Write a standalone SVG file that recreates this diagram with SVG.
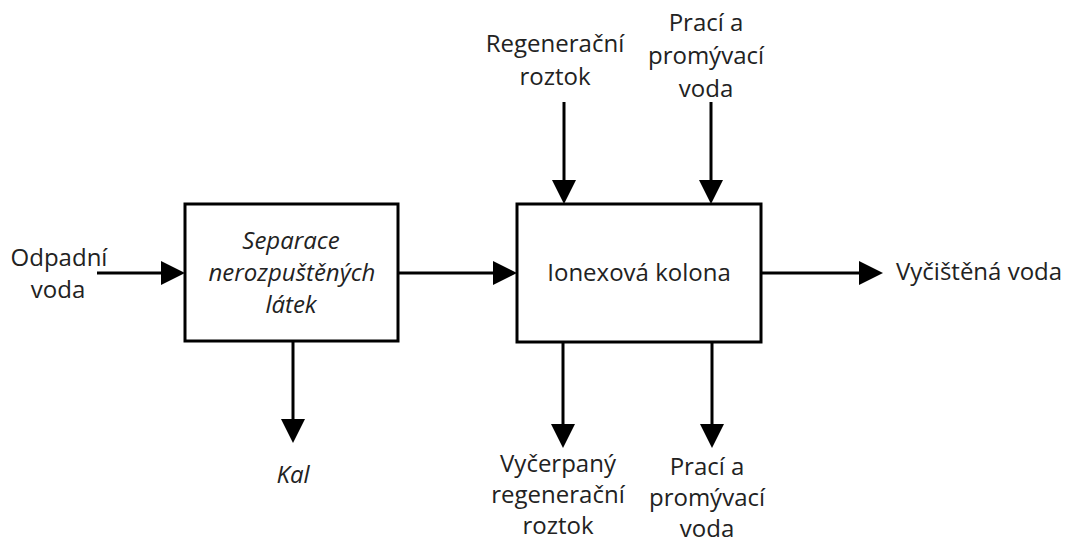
<svg xmlns="http://www.w3.org/2000/svg" width="1068" height="538" viewBox="0 0 1068 538">
<defs>
<style>
text{font-family:"Open Sans","Liberation Sans",sans-serif;font-size:24px;fill:#222;text-anchor:middle}
.it{font-style:italic}
.box{fill:#fff;stroke:#000;stroke-width:3}
.conn path{fill:none;stroke:#000;stroke-width:3;marker-end:url(#ah)}
</style>
<marker id="ah" markerUnits="userSpaceOnUse" markerWidth="24" markerHeight="24" refX="4" refY="12" orient="auto" viewBox="0 0 24 24">
<path d="M0,0 L24,12 L0,24 z" fill="#000"/>
</marker>
</defs>
<rect width="1068" height="538" fill="#fff"/>
<g id="separace">
<rect class="box" x="185" y="204" width="213" height="137"/>
<text class="it" x="291" y="249">Separace</text>
<text class="it" x="292" y="281">nerozpuštěných</text>
<text class="it" x="291" y="313">látek</text>
</g>
<g id="ionex">
<rect class="box" x="517" y="204" width="244" height="138"/>
<text x="639" y="281">Ionexová kolona</text>
</g>
<g id="odpadni">
<text x="59" y="266">Odpadní</text>
<text x="58" y="298">voda</text>
</g>
<g id="vycistena">
<text x="896" y="280" style="text-anchor:start">Vyčištěná voda</text>
</g>
<g id="regen-in">
<text x="555" y="52">Regenerační</text>
<text x="555" y="85">roztok</text>
</g>
<g id="praci-in">
<text x="706" y="31">Prací a</text>
<text x="706" y="64">promývací</text>
<text x="706" y="97">voda</text>
</g>
<g id="kal">
<text class="it" x="293" y="483">Kal</text>
</g>
<g id="regen-out">
<text x="558" y="472">Vyčerpaný</text>
<text x="558" y="503">regenerační</text>
<text x="558" y="534">roztok</text>
</g>
<g id="praci-out">
<text x="707" y="475">Prací a</text>
<text x="707" y="506">promývací</text>
<text x="707" y="537">voda</text>
</g>
<g id="connectors" class="conn">
<path d="M97,273 H165"/>
<path d="M398,273 H497"/>
<path d="M761,273 H863"/>
<path d="M564,102 V184"/>
<path d="M711,102 V184"/>
<path d="M293,341 V423"/>
<path d="M563,342 V428"/>
<path d="M712,342 V428"/>
</g>
</svg>
